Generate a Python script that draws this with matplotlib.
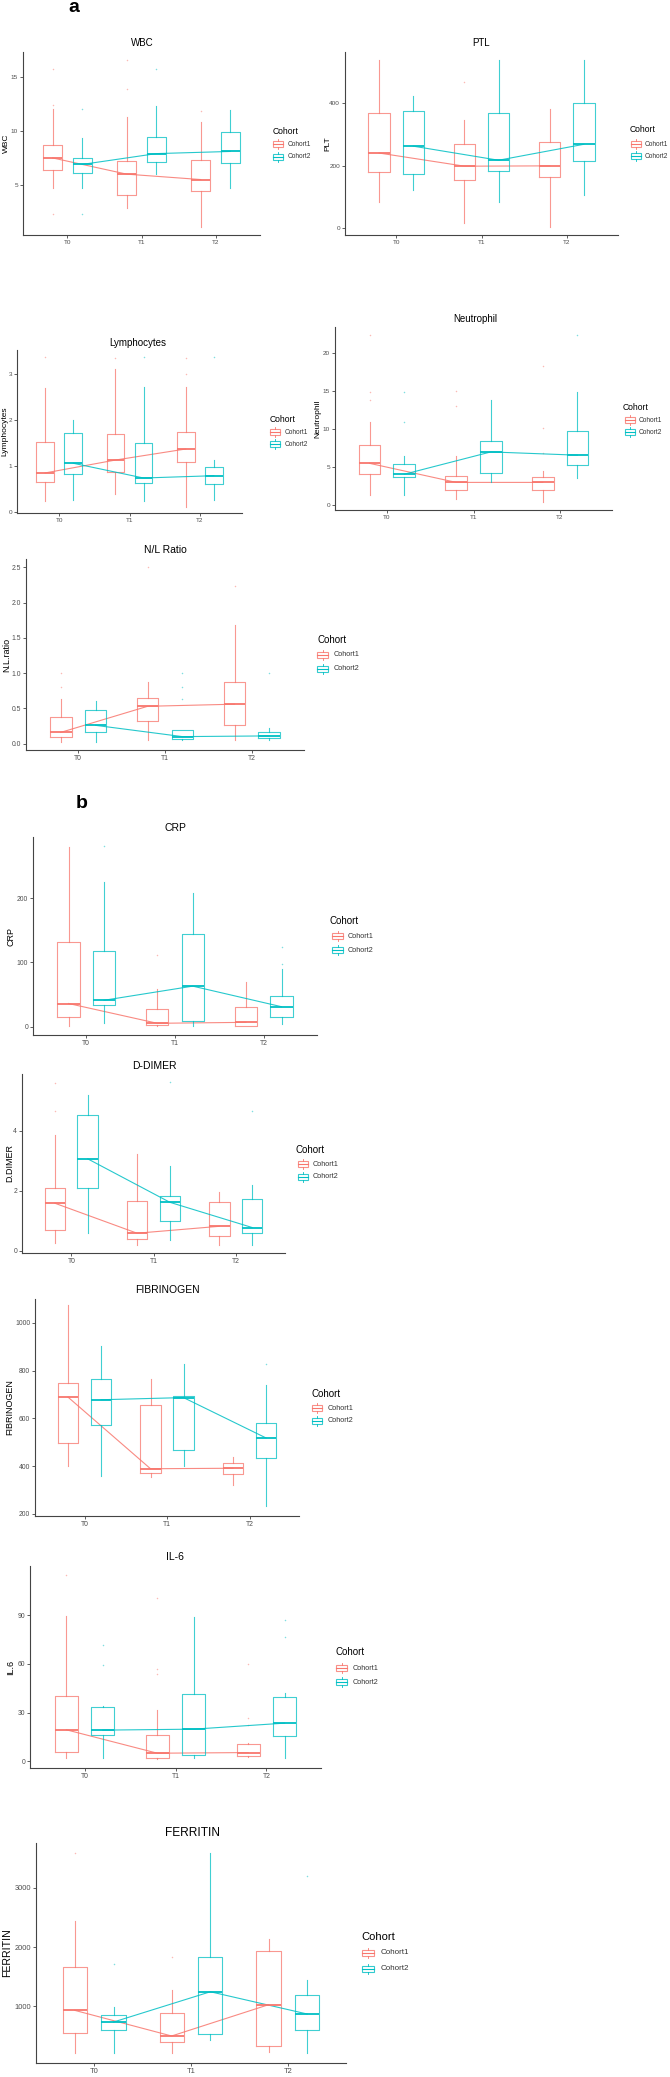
import numpy as np
import matplotlib.pyplot as plt
from matplotlib.patches import Rectangle

plt.rcParams['font.family'] = ['Liberation Sans', 'DejaVu Sans']

times = ['T0', 'T1', 'T2']
cohorts = ['Cohort1', 'Cohort2']
colors = ['#F8766D', '#00BFC4']

# [lower whisker, Q1, median, Q3, upper whisker] at T0, T1, T2
wbc_c1 = [[4.7, 6.4, 7.5, 8.7, 12.0], [2.9, 4.1, 6.0, 7.2, 11.3], [1.1, 4.4, 5.5, 7.3, 10.8]]
wbc_c2 = [[4.7, 6.1, 6.9, 7.5, 9.3], [6.0, 7.1, 7.9, 9.4, 12.3], [4.7, 7.0, 8.1, 9.9, 11.9]]
wbc_c1_out = [[15.7, 12.4, 2.3], [16.6, 13.9], [11.8]]
wbc_c2_out = [[12.0, 2.3], [15.7], []]

plt_c1 = [[85, 181, 241, 370, 539], [16, 156, 199, 271, 346], [5, 166, 200, 277, 382]]
plt_c2 = [[122, 173, 263, 375, 423], [86, 184, 218, 370, 539], [108, 217, 269, 402, 539]]
plt_c1_out = [[], [468], []]
plt_c2_out = [[], [], []]

lym_c1 = [[0.23, 0.66, 0.85, 1.53, 2.7], [0.39, 0.88, 1.13, 1.70, 3.1], [0.12, 1.08, 1.37, 1.75, 2.72]]
lym_c2 = [[0.27, 0.82, 1.06, 1.71, 1.99], [0.23, 0.63, 0.74, 1.49, 2.72], [0.27, 0.61, 0.79, 0.97, 1.13]]
lym_c1_out = [[3.37], [3.34], [3.34, 3.0]]
lym_c2_out = [[], [3.37], [3.37]]

neu_c1 = [[1.34, 4.08, 5.47, 7.94, 10.98], [0.69, 2.0, 2.95, 3.86, 6.46], [0.39, 2.0, 2.95, 3.73, 4.5]]
neu_c2 = [[1.34, 3.6, 4.03, 5.38, 6.42], [2.95, 4.25, 6.98, 8.37, 13.9], [3.5, 5.25, 6.55, 9.72, 14.9]]
neu_c1_out = [[22.4, 14.9, 13.9], [15.1, 13.1], [18.3, 10.1, 6.9]]
neu_c2_out = [[14.9, 11.0], [], [22.4]]

nl_c1 = [[0.03, 0.09, 0.16, 0.38, 0.63], [0.05, 0.32, 0.53, 0.65, 0.87], [0.05, 0.26, 0.56, 0.87, 1.68]]
nl_c2 = [[0.03, 0.17, 0.26, 0.48, 0.61], [0.05, 0.07, 0.10, 0.20, 0.20], [0.05, 0.08, 0.11, 0.16, 0.22]]
nl_c1_out = [[1.0, 0.8], [2.5], [2.24]]
nl_c2_out = [[], [1.0, 0.8, 0.63], [1.0]]

crp_c1 = [[1, 14.5, 36, 131, 280], [1, 2.6, 5.2, 27, 59], [0.5, 1.5, 6.7, 31, 69]]
crp_c2 = [[5, 33, 41, 117, 225], [1, 8.3, 63, 144, 208], [4, 15.5, 31, 47, 89]]
crp_c1_out = [[], [111], []]
crp_c2_out = [[281], [], [124, 98]]

dd_c1 = [[0.28, 0.70, 1.59, 2.09, 3.87], [0.2, 0.39, 0.59, 1.68, 3.22], [0.2, 0.5, 0.82, 1.62, 1.98]]
dd_c2 = [[0.59, 2.11, 3.07, 4.52, 5.2], [0.37, 0.99, 1.62, 1.82, 2.83], [0.2, 0.59, 0.78, 1.72, 2.2]]
dd_c1_out = [[5.61, 4.67], [], []]
dd_c2_out = [[], [5.64], [4.67]]

fib_c1 = [[400, 495, 689, 749, 1074], [353, 372, 389, 655, 765], [321, 369, 391, 414, 440]]
fib_c2 = [[357, 573, 678, 763, 902], [400, 468, 687, 695, 826], [233, 435, 518, 582, 738]]
fib_c1_out = [[], [], []]
fib_c2_out = [[], [], [828]]

il6_c1 = [[2.0, 6.0, 19.5, 40.5, 89.4], [1.6, 2.3, 5.1, 16.2, 31.8], [2.5, 3.1, 5.5, 10.7, 11.1]]
il6_c2 = [[2.0, 16.4, 19.3, 33.5, 34.0], [2.0, 4.1, 19.9, 41.5, 89.2], [2.0, 15.6, 23.6, 39.4, 42.1]]
il6_c1_out = [[114.6], [100.7, 56.7, 53.6], [60.0, 26.7, 22.2]]
il6_c2_out = [[71.5, 59.6], [], [87.3, 76.4]]

fer_c1 = [[213, 556, 933, 1663, 2450], [213, 404, 500, 888, 1281], [230, 331, 1028, 1933, 2140]]
fer_c2 = [[213, 601, 736, 860, 989], [427, 539, 1247, 1837, 3590], [213, 601, 871, 1197, 1438]]
fer_c1_out = [[3590], [1831], []]
fer_c2_out = [[1708], [], [3197]]

W, H = 670, 2077
fig = plt.figure(figsize=(W / 100, H / 100), dpi=100)
over = fig.add_axes([0, 0, 1, 1], zorder=10)
over.set_xlim(0, W)
over.set_ylim(H, 0)
over.axis('off')

small = dict(title=7, tick=4.6, ylab=6, legt=6.2, leg=4.7)
mid = dict(title=7.5, tick=4.9, ylab=6.5, legt=7, leg=5.2)
big = dict(title=8.6, tick=5.4, ylab=7.6, legt=8, leg=5.8)

# box: left, right, top, bottom (px); leg: title x, title y, entry ys, key x, key w, text x
panels = [
    dict(title='WBC', ylab='WBC', c1=wbc_c1, c2=wbc_c2, o1=wbc_c1_out, o2=wbc_c2_out,
         box=(23, 260, 52, 235), ty=43, tx=142, lx=6, ylim=(0.37, 17.3), yt=[5, 10, 15],
         leg=(273, 131, (144, 157), 273, 10, 288), fs=small),
    dict(title='PTL', ylab='PLT', c1=plt_c1, c2=plt_c2, o1=plt_c1_out, o2=plt_c2_out,
         box=(345, 618, 52, 235), ty=43, tx=481, lx=328, ylim=(-21, 564), yt=[0, 200, 400],
         leg=(630, 130, (144, 156), 631, 10, 645), fs=small),
    dict(title='Lymphocytes', ylab='Lymphocytes', c1=lym_c1, c2=lym_c2, o1=lym_c1_out, o2=lym_c2_out,
         box=(17, 242, 350, 513), ty=343, tx=138, lx=5, ylim=(-0.02, 3.52), yt=[0, 1, 2, 3],
         leg=(270, 420, (432, 444), 270, 10, 285), fs=small),
    dict(title='Neutrophil', ylab='Neutrophil', c1=neu_c1, c2=neu_c2, o1=neu_c1_out, o2=neu_c2_out,
         box=(335, 612, 327, 510), ty=319, tx=475, lx=318, ylim=(-0.7, 23.5), yt=[0, 5, 10, 15, 20],
         leg=(623, 407, (420, 432), 625, 10, 639), fs=small),
    dict(title='N/L Ratio', ylab='N.L.ratio', c1=nl_c1, c2=nl_c2, o1=nl_c1_out, o2=nl_c2_out,
         box=(26, 304, 559, 750), ty=550, tx=165, lx=7, ylim=(-0.09, 2.62), yt=[0, 0.5, 1, 1.5, 2, 2.5],
         leg=(317, 640, (655, 669), 317, 11, 334), fs=mid, fmt='{:.1f}'),
    dict(title='CRP', ylab='CRP', c1=crp_c1, c2=crp_c2, o1=crp_c1_out, o2=crp_c2_out,
         box=(33, 317, 837, 1035), ty=828, tx=175, lx=11, ylim=(-13, 295), yt=[0, 100, 200],
         leg=(330, 921, (936, 950), 332, 11, 348), fs=mid),
    dict(title='D-DIMER', ylab='D.DIMER', c1=dd_c1, c2=dd_c2, o1=dd_c1_out, o2=dd_c2_out,
         box=(22, 285, 1074, 1253), ty=1066, tx=154, lx=10, ylim=(-0.07, 5.9), yt=[0, 2, 4],
         leg=(296, 1150, (1164, 1177), 298, 10, 313), fs=mid),
    dict(title='FIBRINOGEN', ylab='FIBRINOGEN', c1=fib_c1, c2=fib_c2, o1=fib_c1_out, o2=fib_c2_out,
         box=(35, 299, 1299, 1516), ty=1290, tx=167, lx=10, ylim=(191, 1100), yt=[200, 400, 600, 800, 1000],
         leg=(312, 1394, (1408, 1421), 312, 10, 328), fs=mid),
    dict(title='IL-6', ylab='IL.6', c1=il6_c1, c2=il6_c2, o1=il6_c1_out, o2=il6_c2_out,
         box=(30, 321, 1566, 1768), ty=1557, tx=175, lx=11, ylim=(-4, 120.3), yt=[0, 30, 60, 90],
         leg=(335, 1652, (1668, 1682), 336, 11, 353), fs=mid),
    dict(title='FERRITIN', ylab='FERRITIN', c1=fer_c1, c2=fer_c2, o1=fer_c1_out, o2=fer_c2_out,
         box=(36, 346, 1843, 2063), ty=1833, tx=192, lx=7, ylim=(44, 3759), yt=[1000, 2000, 3000],
         leg=(361, 1937, (1953, 1969), 362, 12, 381), fs=big),
]

pos = np.arange(len(times))
for p in panels:
    l, r, t, b = p['box']
    ax = fig.add_axes([l / W, 1 - b / H, (r - l) / W, (b - t) / H])
    for k, (five, outs) in enumerate([(p['c1'], p['o1']), (p['c2'], p['o2'])]):
        col = colors[k]
        off = -0.2 if k == 0 else 0.2
        stats = [dict(whislo=f[0], q1=f[1], med=f[2], q3=f[3], whishi=f[4], fliers=o)
                 for f, o in zip(five, outs)]
        ax.bxp(stats, positions=pos + off, widths=0.25, showcaps=False, manage_ticks=False,
               boxprops=dict(color=col, lw=0.8, alpha=0.75),
               whiskerprops=dict(color=col, lw=0.8, alpha=0.75),
               medianprops=dict(color=col, lw=1.3),
               flierprops=dict(marker='o', markersize=1.1, markerfacecolor=col,
                               markeredgecolor='none', alpha=0.5))
        ax.plot(pos + off, [f[2] for f in five], color=col, lw=0.8, alpha=0.85)
    ax.set_xlim(-0.6, 2.6)
    ax.set_ylim(*p['ylim'])
    ax.set_xticks(pos)
    ax.set_xticklabels(times)
    ax.set_yticks(p['yt'])
    fmt = p.get('fmt', '{:g}')
    ax.set_yticklabels([fmt.format(v) for v in p['yt']])
    for s in ['top', 'right']:
        ax.spines[s].set_visible(False)
    for s in ['left', 'bottom']:
        ax.spines[s].set_color('#444444')
        ax.spines[s].set_linewidth(0.8)
    fs = p['fs']
    ax.tick_params(length=2, width=0.6, color='#444444', labelsize=fs['tick'],
                   labelcolor='#4D4D4D', pad=1.5)
    ax.patch.set_alpha(0)

    over.text(p['tx'], p['ty'], p['title'], ha='center', va='center', fontsize=fs['title'])
    over.text(p['lx'], (t + b) / 2, p['ylab'], ha='center', va='center', rotation=90,
              fontsize=fs['ylab'])

    lxt, lyt, ys, kx, kw, txx = p['leg']
    over.text(lxt, lyt, 'Cohort', ha='left', va='center', fontsize=fs['legt'])
    kh = kw * 0.55
    for k, yy in enumerate(ys):
        col = colors[k]
        over.add_patch(Rectangle((kx, yy - kh / 2), kw, kh, fill=False, ec=col, lw=0.8, alpha=0.8))
        over.plot([kx, kx + kw], [yy, yy], color=col, lw=0.8)
        over.plot([kx + kw / 2] * 2, [yy - kh / 2 - 2, yy - kh / 2], color=col, lw=0.6)
        over.plot([kx + kw / 2] * 2, [yy + kh / 2, yy + kh / 2 + 2], color=col, lw=0.6)
        over.text(txx, yy, cohorts[k], ha='left', va='center', fontsize=fs['leg'], color='#333333')

over.text(74, 8, 'a', ha='center', va='center', fontsize=14, fontweight='bold')
over.text(82, 803, 'b', ha='center', va='center', fontsize=14, fontweight='bold')

fig.savefig('out.png', dpi=100)
